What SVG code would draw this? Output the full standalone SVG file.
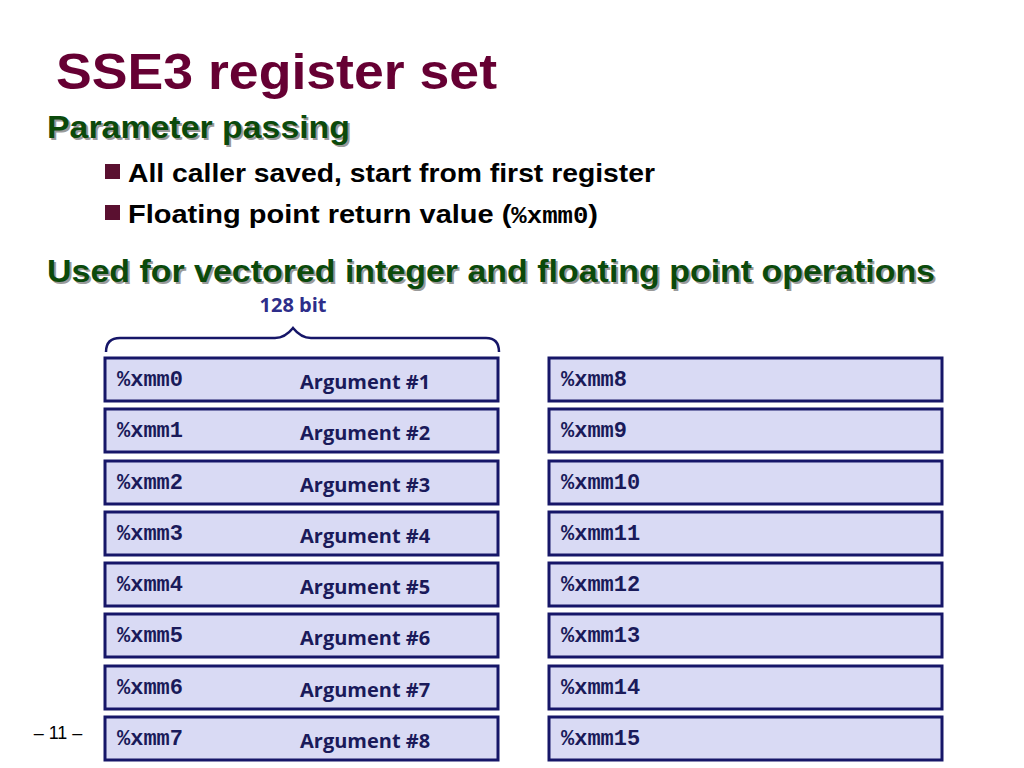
<svg xmlns="http://www.w3.org/2000/svg" width="1024" height="768" viewBox="0 0 1024 768">
<style>
.t{font-family:"Liberation Sans",Arial,sans-serif;font-weight:bold}
.h{font-family:"Liberation Sans",Arial,sans-serif;font-weight:bold;font-size:31px;fill:#0b4a0b}
.hs{font-family:"Liberation Sans",Arial,sans-serif;font-weight:bold;font-size:31px;fill:#9a9a9a}
.b{font-family:"Liberation Sans",Arial,sans-serif;font-weight:bold;font-size:26px;fill:#000}
.r rect{fill:#d9daf4;stroke:#161668;stroke-width:3}
.m{font-family:"Liberation Mono","Courier New",monospace;font-weight:bold;font-size:22px;fill:#1a1a5a}
.a{font-family:"Open Sans","Noto Sans",sans-serif;font-weight:700;font-size:20px;fill:#1a1a5a}
</style>
<rect width="1024" height="768" fill="#fff"/>
<text x="56" y="89" class="t" font-size="50" fill="#660033" textLength="441" lengthAdjust="spacingAndGlyphs">SSE3 register set</text>
<text x="49" y="140" class="hs" textLength="303" lengthAdjust="spacingAndGlyphs">Parameter passing</text>
<text x="47" y="138" class="h" textLength="303" lengthAdjust="spacingAndGlyphs">Parameter passing</text>
<rect x="105" y="164" width="15" height="15" fill="#5a1030"/>
<text x="128" y="182" class="b" textLength="527" lengthAdjust="spacingAndGlyphs">All caller saved, start from first register</text>
<rect x="105" y="205" width="15" height="15" fill="#5a1030"/>
<text x="128" y="223" class="b" textLength="470" lengthAdjust="spacingAndGlyphs">Floating point return value (<tspan font-family="Liberation Mono,monospace" font-size="23">%xmm0</tspan>)</text>
<text x="49" y="284" class="hs" textLength="888" lengthAdjust="spacingAndGlyphs">Used for vectored integer and floating point operations</text>
<text x="47" y="282" class="h" textLength="888" lengthAdjust="spacingAndGlyphs">Used for vectored integer and floating point operations</text>
<text x="293" y="312" class="a" text-anchor="middle" style="fill:#2e2e8a">128 bit</text>
<g id="connectors"><path d="M106,352 Q106,338 120,338 L275,338 Q285,338 293,328 Q301,338 311,338 L486,338 Q499,338 499,352" fill="none" stroke="#161668" stroke-width="2.5"/></g>
<text x="58" y="739" font-family="Liberation Sans,Arial,sans-serif" font-size="18" text-anchor="middle">– 11 –</text>
<g class="r">
<g id="xmm0"><rect x="105" y="358" width="393" height="43"/><text x="117" y="386" class="m">%xmm0</text><text x="300" y="389" class="a">Argument #1</text></g>
<g id="xmm1"><rect x="105" y="409" width="393" height="43"/><text x="117" y="437" class="m">%xmm1</text><text x="300" y="440" class="a">Argument #2</text></g>
<g id="xmm2"><rect x="105" y="461" width="393" height="43"/><text x="117" y="489" class="m">%xmm2</text><text x="300" y="492" class="a">Argument #3</text></g>
<g id="xmm3"><rect x="105" y="512" width="393" height="43"/><text x="117" y="540" class="m">%xmm3</text><text x="300" y="543" class="a">Argument #4</text></g>
<g id="xmm4"><rect x="105" y="563" width="393" height="43"/><text x="117" y="591" class="m">%xmm4</text><text x="300" y="594" class="a">Argument #5</text></g>
<g id="xmm5"><rect x="105" y="614" width="393" height="43"/><text x="117" y="642" class="m">%xmm5</text><text x="300" y="645" class="a">Argument #6</text></g>
<g id="xmm6"><rect x="105" y="666" width="393" height="43"/><text x="117" y="694" class="m">%xmm6</text><text x="300" y="697" class="a">Argument #7</text></g>
<g id="xmm7"><rect x="105" y="717" width="393" height="43"/><text x="117" y="745" class="m">%xmm7</text><text x="300" y="748" class="a">Argument #8</text></g>
<g id="xmm8"><rect x="549" y="358" width="393" height="43"/><text x="561" y="386" class="m">%xmm8</text></g>
<g id="xmm9"><rect x="549" y="409" width="393" height="43"/><text x="561" y="437" class="m">%xmm9</text></g>
<g id="xmm10"><rect x="549" y="461" width="393" height="43"/><text x="561" y="489" class="m">%xmm10</text></g>
<g id="xmm11"><rect x="549" y="512" width="393" height="43"/><text x="561" y="540" class="m">%xmm11</text></g>
<g id="xmm12"><rect x="549" y="563" width="393" height="43"/><text x="561" y="591" class="m">%xmm12</text></g>
<g id="xmm13"><rect x="549" y="614" width="393" height="43"/><text x="561" y="642" class="m">%xmm13</text></g>
<g id="xmm14"><rect x="549" y="666" width="393" height="43"/><text x="561" y="694" class="m">%xmm14</text></g>
<g id="xmm15"><rect x="549" y="717" width="393" height="43"/><text x="561" y="745" class="m">%xmm15</text></g>
</g>
</svg>
